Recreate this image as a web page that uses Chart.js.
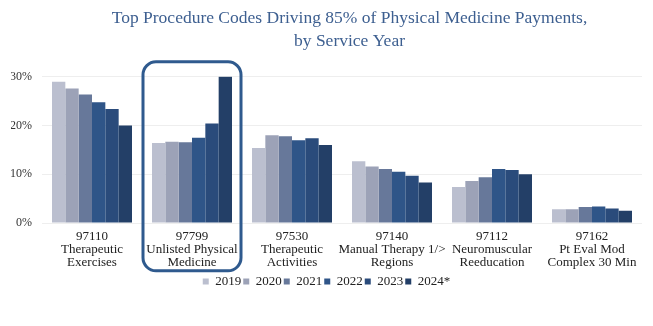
<!DOCTYPE html>
<html>
<head>
<meta charset="utf-8">
<script src="https://cdn.jsdelivr.net/npm/chart.js@4"></script>
<style>
  html, body { margin: 0; padding: 0; background: #fff; }
  #wrap { width: 653px; height: 326px; }
</style>
</head>
<body>
<div id="wrap"><canvas id="chart"></canvas></div>
<script>
// --- data (% of payments) ---
const codes = [
  ['97110', 'Therapeutic', 'Exercises'],
  ['97799', 'Unlisted Physical', 'Medicine'],
  ['97530', 'Therapeutic', 'Activities'],
  ['97140', 'Manual Therapy 1/>', 'Regions'],
  ['97112', 'Neuromuscular', 'Reeducation'],
  ['97162', 'Pt Eval Mod', 'Complex 30 Min']
];
const years = ['2019', '2020', '2021', '2022', '2023', '2024*'];
const y2019 = [29.0, 16.4, 15.4, 12.7, 7.4, 2.8];
const y2020 = [27.6, 16.7, 18.0, 11.6, 8.6, 2.8];
const y2021 = [26.4, 16.6, 17.8, 11.1, 9.4, 3.3];
const y2022 = [24.8, 17.5, 17.0, 10.5, 11.1, 3.4];
const y2023 = [23.4, 20.4, 17.4, 9.7, 10.9, 3.0];
const y2024 = [20.0, 30.1, 16.0, 8.3, 10.0, 2.5];
const yTicks = [0, 10, 20, 30];

const colors = ['#bbbfcf', '#9ca2b7', '#67789a', '#2f5588', '#2a4b7b', '#233f67'];
const series = [y2019, y2020, y2021, y2022, y2023, y2024];

const serif = '"Liberation Serif", "Times New Roman", serif';
Chart.defaults.font.family = serif;

// rounded frame around the highlighted code (97799)
const highlightBox = {
  id: 'highlightBox',
  afterLayout(chart) {
    // title sits a bit right of centre in the original
    chart.titleBlock.left += 23;
    chart.titleBlock.right += 23;
  },
  afterDatasetsDraw(chart) {
    const x = chart.scales.x;
    const area = chart.chartArea;
    const cx = x.getPixelForValue(1);
    const half = (x.getPixelForValue(1) - x.getPixelForValue(0)) / 2;
    const ctx = chart.ctx;
    ctx.save();
    ctx.strokeStyle = '#2f5a8e';
    ctx.lineWidth = 3;
    ctx.beginPath();
    ctx.roundRect(cx - half + 1, area.top - 15, half * 2 - 2, 209, 13);
    ctx.stroke();
    ctx.restore();
  }
};

const ctx = document.getElementById('chart').getContext('2d');
new Chart(ctx, {
  type: 'bar',
  data: {
    labels: codes,
    datasets: years.map((yr, i) => ({
      label: yr,
      data: series[i],
      backgroundColor: colors[i],
      borderWidth: 0,
      barPercentage: 1,
      categoryPercentage: 0.8
    }))
  },
  options: {
    responsive: true,
    maintainAspectRatio: false,
    animation: false,
    layout: { padding: { left: 11, right: 11, top: 7, bottom: 28 } },
    plugins: {
      title: {
        display: true,
        text: ['Top Procedure Codes Driving 85% of Physical Medicine Payments,', 'by Service Year'],
        color: '#3d5f90',
        font: { family: serif, size: 17.5, weight: 'normal', lineHeight: 1.31 },
        padding: { top: 0, bottom: 24 }
      },
      legend: {
        position: 'bottom',
        labels: {
          boxWidth: 6,
          boxHeight: 6,
          padding: 2,
          color: '#222',
          font: { family: serif, size: 13 }
        }
      },
      tooltip: { enabled: false }
    },
    scales: {
      x: {
        grid: { display: false, drawTicks: false },
        border: { display: false },
        afterFit: s => { s.height = 50; },
        ticks: {
          color: '#222',
          font: { family: serif, size: 13, lineHeight: 1.0 },
          maxRotation: 0,
          autoSkip: false,
          padding: 7
        }
      },
      y: {
        min: 0,
        max: 30,
        afterFit: s => { s.width = 31; },
        afterBuildTicks: s => { s.ticks = yTicks.map(v => ({ value: v })); },
        grid: { color: '#eeeeee', drawTicks: false },
        border: { display: false },
        ticks: {
          color: '#333',
          padding: 10,
          font: { family: serif, size: 12 },
          callback: v => v + '%'
        }
      }
    }
  },
  plugins: [highlightBox]
});
</script>
</body>
</html>
